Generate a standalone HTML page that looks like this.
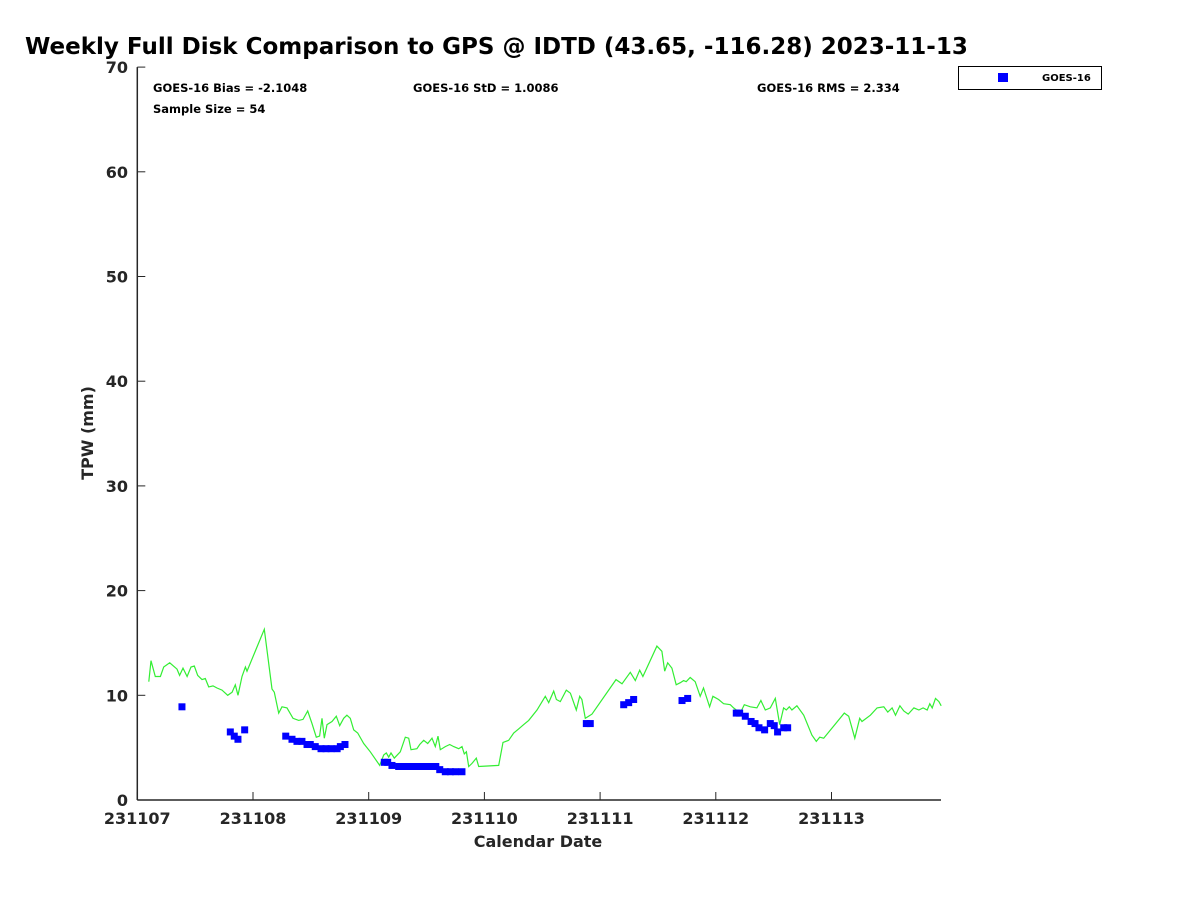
<!DOCTYPE html>
<html><head><meta charset="utf-8"><style>
body{margin:0;background:#fff;}
svg{display:block;font-family:"DejaVu Sans","Liberation Sans",sans-serif;}
</style></head><body>
<svg id="chart" width="1200" height="900" viewBox="0 0 1200 900">
<rect width="1200" height="900" fill="#fff"/>
<text x="25" y="54" font-size="23" font-weight="bold" fill="#000">Weekly Full Disk Comparison to GPS @ IDTD (43.65, -116.28) 2023-11-13</text>
<g id="axes"></g>
<g id="series"></g>
<text x="153" y="92" font-size="11.5" font-weight="bold">GOES-16 Bias = -2.1048</text>
<text x="413" y="92" font-size="11.5" font-weight="bold">GOES-16 StD = 1.0086</text>
<text x="757" y="92" font-size="11.5" font-weight="bold">GOES-16 RMS = 2.334</text>
<text x="153" y="113" font-size="11.5" font-weight="bold">Sample Size = 54</text>
<g>
<rect x="958.5" y="66.5" width="143" height="23" fill="#fff" stroke="#000" stroke-width="1"/>
<rect x="998" y="73" width="10" height="9" fill="#0000ff"/>
<text x="1042" y="81" font-size="10" font-weight="bold">GOES-16</text>
</g>
<text x="538" y="847" font-size="16" font-weight="bold" fill="#262626" text-anchor="middle">Calendar Date</text>
<text transform="translate(93,433) rotate(-90)" font-size="16" font-weight="bold" fill="#262626" text-anchor="middle">TPW (mm)</text>
</svg>
<script>
const xTickLabels = ["231107","231108","231109","231110","231111","231112","231113"];
const yTickValues = [0,10,20,30,40,50,60,70];
const gpsDays = [0.099,0.118,0.156,0.2,0.228,0.28,0.343,0.366,0.395,0.43,0.464,0.493,0.522,0.559,0.588,0.617,0.654,0.689,0.732,0.781,0.819,0.847,0.87,0.905,0.934,0.948,1.098,1.164,1.184,1.222,1.251,1.294,1.346,1.395,1.432,1.473,1.51,1.547,1.576,1.596,1.616,1.64,1.683,1.72,1.749,1.784,1.812,1.841,1.87,1.905,1.957,2.014,2.095,2.13,2.152,2.173,2.193,2.221,2.273,2.316,2.346,2.366,2.417,2.441,2.475,2.51,2.547,2.576,2.599,2.619,2.662,2.7,2.735,2.778,2.806,2.826,2.844,2.864,2.893,2.93,2.951,3.124,3.161,3.21,3.253,3.297,3.34,3.383,3.455,3.526,3.556,3.599,3.622,3.656,3.708,3.743,3.794,3.824,3.843,3.872,3.901,3.93,4.137,4.189,4.261,4.304,4.342,4.37,4.491,4.534,4.558,4.584,4.621,4.658,4.693,4.722,4.744,4.779,4.822,4.865,4.894,4.946,4.975,5.024,5.067,5.125,5.154,5.211,5.246,5.298,5.355,5.39,5.428,5.471,5.514,5.552,5.586,5.609,5.635,5.658,5.701,5.76,5.831,5.869,5.898,5.933,6.111,6.149,6.201,6.244,6.264,6.336,6.394,6.452,6.487,6.524,6.553,6.591,6.625,6.663,6.712,6.755,6.792,6.827,6.85,6.87,6.899,6.928,6.948];
const gpsTpw = [11.3,13.3,11.8,11.8,12.7,13.1,12.5,11.9,12.6,11.8,12.7,12.8,11.9,11.5,11.6,10.8,10.9,10.7,10.5,10.0,10.3,11.0,10.0,11.8,12.7,12.3,16.3,10.6,10.3,8.3,8.9,8.8,7.8,7.6,7.7,8.5,7.3,6.0,6.1,7.8,5.9,7.2,7.5,8.0,7.1,7.8,8.1,7.8,6.7,6.4,5.4,4.6,3.3,4.3,4.5,4.1,4.5,4.0,4.6,6.0,5.9,4.8,4.9,5.3,5.7,5.4,5.9,5.1,6.1,4.8,5.1,5.3,5.1,4.9,5.1,4.4,4.6,3.2,3.5,4.0,3.2,3.3,5.5,5.7,6.4,6.8,7.2,7.6,8.6,9.9,9.3,10.4,9.6,9.4,10.5,10.2,8.6,9.9,9.6,7.8,8.0,8.2,11.5,11.1,12.2,11.4,12.4,11.8,14.7,14.2,12.3,13.1,12.6,11.0,11.2,11.4,11.3,11.7,11.3,9.9,10.7,8.9,9.9,9.6,9.2,9.1,8.8,8.3,9.1,8.9,8.8,9.5,8.6,8.8,9.7,7.2,8.8,8.6,8.9,8.6,9.0,8.1,6.2,5.6,6.0,5.9,8.3,8.0,5.9,7.8,7.5,8.1,8.8,8.9,8.4,8.8,8.1,9.0,8.5,8.2,8.8,8.6,8.8,8.6,9.2,8.8,9.7,9.4,9.0];
const goesDays = [0.386,0.804,0.838,0.87,0.928,1.283,1.337,1.38,1.423,1.467,1.495,1.538,1.588,1.631,1.675,1.727,1.755,1.795,2.135,2.164,2.201,2.259,2.3,2.34,2.38,2.42,2.46,2.5,2.54,2.58,2.614,2.662,2.706,2.75,2.806,3.881,3.915,4.204,4.247,4.29,4.708,4.757,5.177,5.206,5.255,5.305,5.339,5.373,5.422,5.471,5.505,5.534,5.587,5.621];
const goesTpw = [8.9,6.5,6.1,5.8,6.7,6.1,5.8,5.6,5.6,5.3,5.3,5.1,4.9,4.9,4.9,4.9,5.1,5.3,3.6,3.6,3.3,3.2,3.2,3.2,3.2,3.2,3.2,3.2,3.2,3.2,2.9,2.7,2.7,2.7,2.7,7.3,7.3,9.1,9.3,9.6,9.5,9.7,8.3,8.3,8.0,7.5,7.3,6.9,6.7,7.3,7.1,6.5,6.9,6.9];

const NS="http://www.w3.org/2000/svg";
const X0=137.3, PXDAY=115.7, Y0=800, PXUNIT=10.47, XEND=941;
const xs=d=>X0+d*PXDAY, ys=v=>Y0-v*PXUNIT;
function mk(tag,attrs,parent){const e=document.createElementNS(NS,tag);for(const k in attrs)e.setAttribute(k,attrs[k]);parent.appendChild(e);return e;}
const axes=document.getElementById('axes'), series=document.getElementById('series');
let a=mk('line',{x1:X0,y1:ys(70),x2:X0,y2:Y0,stroke:'#262626','stroke-width':1.5},axes);


a=mk('line',{x1:X0,y1:Y0,x2:XEND,y2:Y0,stroke:'#262626','stroke-width':1.5},axes);


yTickValues.forEach(v=>{
  const t=mk('line',{x1:X0,y1:ys(v),x2:X0+8,y2:ys(v),stroke:'#262626','stroke-width':1},axes);
  
  
  const l=mk('text',{x:128,y:ys(v)+6,'font-size':16,'font-weight':'bold',fill:'#262626','text-anchor':'end'},axes);
  l.textContent=v;
  
  
});
xTickLabels.forEach((s,i)=>{
  const t=mk('line',{x1:xs(i),y1:Y0,x2:xs(i),y2:Y0-8,stroke:'#262626','stroke-width':1},axes);
  
  
  const l=mk('text',{x:xs(i),y:824,'font-size':16,'font-weight':'bold',fill:'#262626','text-anchor':'middle'},axes);
  l.textContent=s;
  
  
});
const pts=gpsDays.map((d,i)=>xs(d).toFixed(1)+','+ys(gpsTpw[i]).toFixed(1)).join(' ');
const line=mk('polyline',{points:pts,fill:'none',stroke:'#33ee33','stroke-width':1.2},series);


goesDays.forEach((d,i)=>{
  const r=mk('rect',{x:xs(d)-3.5,y:ys(goesTpw[i])-3.5,width:7,height:7,fill:'#0000ff'},series);
  
  
});
</script>
</body></html>
